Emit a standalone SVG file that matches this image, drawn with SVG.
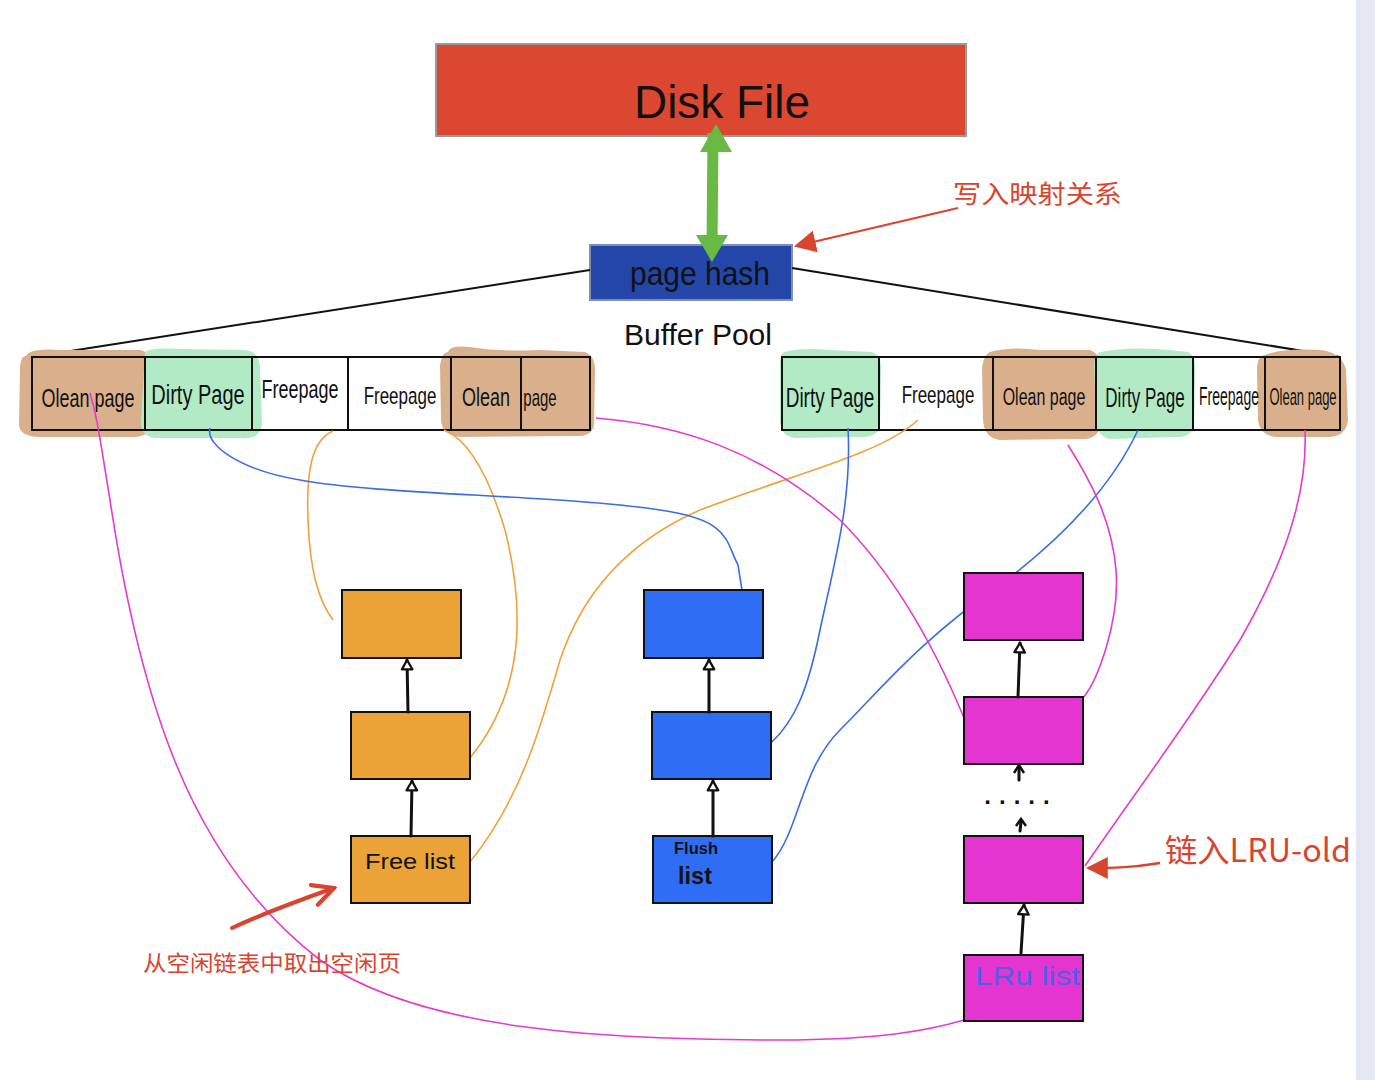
<svg xmlns="http://www.w3.org/2000/svg" width="1375" height="1080" viewBox="0 0 1375 1080">
<style>
.hand{font-family:"Liberation Sans",Arial,sans-serif;fill:#111}
.pg{font-family:"Liberation Sans",Arial,sans-serif;fill:#111;text-anchor:middle}
.cn{font-family:"Noto Sans CJK SC","Noto Sans",sans-serif;fill:#d9442f}
.cell{fill:none;stroke:#111;stroke-width:2}
.tan{fill:#d9b08b}
.grn{fill:#b3eac6}
.box{stroke:#111;stroke-width:2}
.lnk{fill:none;stroke-width:1.6}
.or{stroke:#f0a23a}.bl{stroke:#3a6ee0}.mg{stroke:#e43ccd}
.blk{fill:none;stroke:#111;stroke-width:3;stroke-linecap:round}
</style>
<defs>
<marker id="open" viewBox="0 0 12 12" refX="10" refY="6" markerWidth="14" markerHeight="14" orient="auto" markerUnits="userSpaceOnUse">
<path d="M2,1.5 L10,6 L2,10.5 Z" fill="#fff" stroke="#111" stroke-width="2" stroke-linejoin="round"/>
</marker>
<marker id="redh" viewBox="0 0 10 10" refX="9" refY="5" markerWidth="22" markerHeight="22" orient="auto" markerUnits="userSpaceOnUse">
<path d="M0,0 L10,5 L0,10 Z" fill="#d9442f"/>
</marker>
<marker id="redo" viewBox="0 0 10 10" refX="9" refY="5" markerWidth="26" markerHeight="26" orient="auto" markerUnits="userSpaceOnUse">
<path d="M1,1 L9,5 L1,9" fill="none" stroke="#d9442f" stroke-width="1.6" stroke-linecap="round"/>
</marker>
</defs>
<rect width="1375" height="1080" fill="#fff"/>

<g id="disk-file">
<rect x="436" y="44" width="530" height="92" fill="#db4731" stroke="#9a9a9a" stroke-width="2"/>
<text class="hand" x="722" y="118" font-size="46" text-anchor="middle" textLength="176" lengthAdjust="spacingAndGlyphs">Disk  File</text>
</g>

<g id="page-hash">
<rect x="590" y="245" width="202" height="55" fill="#2346a8" stroke="#7f8fb8" stroke-width="2"/>
<text class="hand" x="700" y="285" font-size="34" text-anchor="middle" textLength="140" lengthAdjust="spacingAndGlyphs">page  hash</text>
</g>
<text id="buffer-pool" class="hand" x="698" y="345" font-size="30" text-anchor="middle" textLength="148" lengthAdjust="spacingAndGlyphs">Buffer  Pool</text>

<g id="connectors">
<path d="M713,133 L712,248" stroke="#6ab945" stroke-width="11" fill="none"/>
<path d="M716,124 L732,152 L700,152 Z" fill="#6ab945"/>
<path d="M712,262 L728,235 L696,235 Z" fill="#6ab945"/>
<path d="M590,270 L32,357" stroke="#111" stroke-width="2" fill="none"/>
<path d="M792,268 L1340,357" stroke="#111" stroke-width="2" fill="none"/>
<path d="M958,208 L796,246" stroke="#d9442f" stroke-width="2" fill="none" marker-end="url(#redh)"/>
</g>

<g id="page-row-left">
<path class="tan" d="M26,356 Q30,348 60,350 L140,350 Q152,352 150,365 L150,425 Q150,438 130,437 L40,437 Q20,437 19,425 L20,370 Q20,356 26,356 Z"/>
<path class="grn" d="M145,352 Q150,347 180,349 L245,350 Q260,352 260,368 L262,425 Q260,440 240,438 L155,438 Q140,436 141,420 Z"/>
<path class="tan" d="M448,352 Q450,345 470,347 Q500,352 540,350 L585,352 Q596,356 595,372 L594,425 Q592,437 575,436 L460,437 Q442,435 441,420 L440,365 Q442,352 448,352 Z"/>
<rect class="cell" x="32" y="357" width="558" height="73"/>
<path class="cell" d="M145,357V430M252,357V430M348,357V430M451,357V430M521,357V430"/>
<text class="pg" transform="translate(88,407) scale(1,1.4)" font-size="18">Olean page</text>
<text class="pg" transform="translate(198,404) scale(1,1.4)" font-size="20">Dirty Page</text>
<text class="pg" transform="translate(300,398) scale(1,1.4)" font-size="18">Freepage</text>
<text class="pg" transform="translate(400,404) scale(1,1.45)" font-size="17">Freepage</text>
<text class="pg" transform="translate(486,406) scale(1,1.4)" font-size="18">Olean</text>
<text class="pg" transform="translate(540,406) scale(1,1.6)" font-size="15">page</text>
</g>

<g id="page-row-right">
<path class="grn" d="M784,352 Q800,347 830,350 L872,352 Q882,356 881,372 L880,425 Q878,438 860,437 L795,438 Q780,436 780,420 L780,365 Q780,354 784,352 Z"/>
<path class="tan" d="M990,352 Q1010,346 1040,350 L1090,350 Q1102,354 1100,370 L1100,428 Q1096,440 1080,439 L1000,440 Q984,438 983,420 L982,368 Q984,354 990,352 Z"/>
<path class="grn" d="M1100,352 Q1130,346 1170,350 L1188,352 Q1196,356 1195,372 L1194,425 Q1192,438 1175,437 L1110,439 Q1096,436 1096,420 L1094,365 Q1095,354 1100,352 Z"/>
<path class="tan" d="M1262,356 Q1280,348 1320,350 Q1342,352 1346,370 L1348,420 Q1346,436 1330,437 L1275,437 Q1258,434 1258,418 L1257,370 Q1257,358 1262,356 Z"/>
<rect class="cell" x="782" y="357" width="558" height="73"/>
<path class="cell" d="M879,357V430M993,357V430M1096,357V430M1193,357V430M1265,357V430"/>
<text class="pg" transform="translate(830,407) scale(1,1.45)" font-size="19">Dirty Page</text>
<text class="pg" transform="translate(938,403) scale(1,1.45)" font-size="17">Freepage</text>
<text class="pg" transform="translate(1044,405) scale(1,1.55)" font-size="16">Olean page</text>
<text class="pg" transform="translate(1145,407) scale(1,1.6)" font-size="17">Dirty Page</text>
<text class="pg" transform="translate(1229,405) scale(1,1.8)" font-size="14">Freepage</text>
<text class="pg" transform="translate(1303,405) scale(1,1.9)" font-size="13">Olean page</text>
</g>

<g id="links">
<path class="lnk or" d="M333,431 C312,440 306,470 308,520 C310,570 318,600 333,620"/>
<path class="lnk or" d="M444,430 C470,440 490,480 505,530 C525,610 525,690 470,758"/>
<path class="lnk or" d="M918,420 C880,455 790,475 700,510 C620,545 580,600 560,660 C540,730 520,800 470,862"/>
<path class="lnk bl" d="M210,428 C205,445 240,470 300,480 C380,495 560,495 660,510 C730,520 725,540 738,565 L742,590"/>
<path class="lnk bl" d="M848,428 C852,500 835,560 820,630 C808,690 795,720 772,742"/>
<path class="lnk bl" d="M1138,430 C1110,490 1060,540 1000,585 C920,640 880,690 840,730 C800,770 800,830 772,862"/>
<path class="lnk mg" d="M90,393 C98,420 100,440 110,500 C140,700 190,860 320,960 C420,1030 600,1040 780,1040 C880,1040 930,1030 964,1020"/>
<path class="lnk mg" d="M596,418 C680,425 760,450 840,520 C900,580 940,660 964,718"/>
<path class="lnk mg" d="M1068,445 C1090,480 1112,520 1116,570 C1120,620 1098,680 1083,698"/>
<path class="lnk mg" d="M1305,430 C1308,500 1280,570 1240,640 C1190,720 1130,800 1085,866"/>
</g>

<g id="free-list">
<rect class="box" x="342" y="590" width="119" height="68" fill="#eba337"/>
<rect class="box" x="351" y="712" width="119" height="67" fill="#eba337"/>
<rect class="box" x="351" y="836" width="119" height="67" fill="#eba337"/>
<text class="hand" x="410" y="869" font-size="22" text-anchor="middle" textLength="90" lengthAdjust="spacingAndGlyphs">Free  list</text>
</g>
<g id="flush-list">
<rect class="box" x="644" y="590" width="119" height="68" fill="#2f6ef4"/>
<rect class="box" x="652" y="712" width="119" height="67" fill="#2f6ef4"/>
<rect class="box" x="653" y="836" width="119" height="67" fill="#2f6ef4"/>
<text class="hand" x="674" y="854" font-size="16" font-weight="bold" textLength="44" lengthAdjust="spacingAndGlyphs">Flush</text>
<text class="hand" x="678" y="884" font-size="24" font-weight="bold" textLength="34" lengthAdjust="spacingAndGlyphs">list</text>
</g>
<g id="lru-list">
<rect class="box" x="964" y="573" width="119" height="67" fill="#e535d0"/>
<rect class="box" x="964" y="697" width="119" height="67" fill="#e535d0"/>
<rect class="box" x="964" y="836" width="119" height="67" fill="#e535d0"/>
<rect class="box" x="964" y="955" width="119" height="66" fill="#e535d0"/>
<text x="975" y="985" font-family="Liberation Sans,sans-serif" font-size="26" fill="#4a62e6" textLength="105" lengthAdjust="spacingAndGlyphs">LRu  list</text>
<text class="hand" x="1021" y="804" font-size="24" font-weight="bold" text-anchor="middle" letter-spacing="8">.....</text>
</g>

<g id="list-arrows">
<path class="blk" d="M408,712 L407,660" marker-end="url(#open)"/>
<path class="blk" d="M411,836 L412,781" marker-end="url(#open)"/>
<path class="blk" d="M709,712 L709,660" marker-end="url(#open)"/>
<path class="blk" d="M713,836 L713,781" marker-end="url(#open)"/>
<path class="blk" d="M1018,697 L1020,643" marker-end="url(#open)"/>
<path class="blk" d="M1019,780 L1019,767" stroke-width="2.5"/>
<path d="M1014,773 L1019,765 L1024,773" fill="none" stroke="#111" stroke-width="2.5"/>
<path class="blk" d="M1020,831 L1021,822" stroke-width="2"/>
<path d="M1016,826 L1021,819 L1026,826" fill="none" stroke="#111" stroke-width="2.5"/>
<path class="blk" d="M1021,953 L1024,905" marker-end="url(#open)"/>
</g>

<g id="annotations">
<text class="cn" x="953" y="203" font-size="25" textLength="169" lengthAdjust="spacingAndGlyphs">写入映射关系</text>
<path d="M232,928 C260,915 300,900 334,888" stroke="#d9442f" stroke-width="4" fill="none" stroke-linecap="round" marker-end="url(#redo)"/>
<text class="cn" x="143" y="971" font-size="22" textLength="258" lengthAdjust="spacingAndGlyphs">从空闲链表中取出空闲页</text>
<path d="M1160,863 C1130,868 1110,868 1088,868" stroke="#d9442f" stroke-width="2.5" fill="none" marker-end="url(#redh)"/>
<text x="1165" y="862" font-family="Noto Sans CJK SC,sans-serif" font-size="32" fill="#d9442f" textLength="186" lengthAdjust="spacingAndGlyphs">链入LRU-old</text>
</g>

<rect x="1356" y="0" width="19" height="1080" fill="#e4e7f1"/>
</svg>
